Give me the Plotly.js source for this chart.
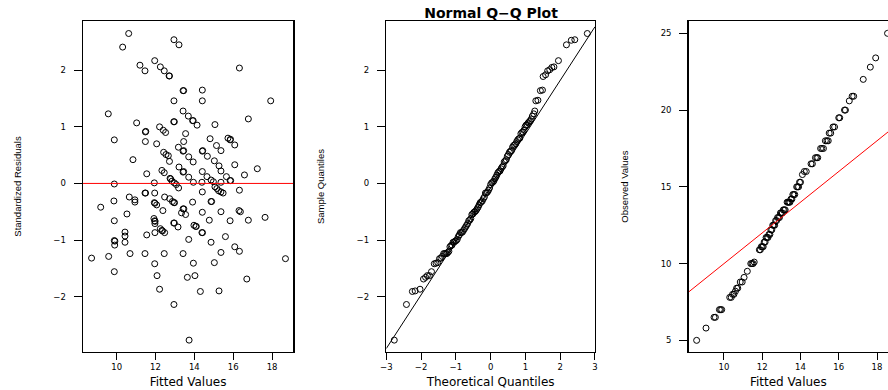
<!DOCTYPE html>
<html>
<head>
<meta charset="utf-8">
<script src="https://cdn.plot.ly/plotly-3.0.1.min.js"></script>
<style>
html,body{margin:0;padding:0;background:#fff;}
#chart{width:888px;height:390px;}
</style>
</head>
<body>
<div id="chart"></div>
<script>
// ---- Panel 1: standardized residuals vs fitted values ----
const fittedValues = [10.62,10.31,12.95,13.21,11.20,11.46,11.96,12.25,12.45,12.70,12.72,16.32,13.42,13.45,14.41,12.95,14.41,17.93,9.57,13.42,
13.69,13.91,13.94,12.94,12.97,14.14,15.06,16.78,11.03,12.21,12.40,12.52,11.48,11.50,13.55,9.88,11.48,12.06,13.45,14.81,
15.73,15.84,15.86,16.08,15.14,13.18,13.42,13.45,14.41,14.43,15.37,12.42,12.54,12.66,13.71,14.67,10.84,12.72,13.94,15.03,
15.27,16.08,13.21,17.24,11.55,12.33,12.45,13.42,13.45,14.41,15.37,14.65,13.71,16.58,15.65,14.86,12.75,12.78,12.85,13.95,
14.39,15.37,15.84,15.87,14.98,9.88,11.94,12.97,13.07,13.19,15.06,15.16,15.25,15.37,15.48,16.32,11.46,11.49,11.96,14.41,
10.65,10.94,10.94,9.86,9.18,12.47,12.73,12.87,12.95,12.98,11.94,11.97,12.06,13.91,14.86,14.89,13.42,13.46,12.38,13.34,
13.55,14.41,15.37,16.30,16.37,10.53,11.92,11.96,11.98,9.88,11.97,14.77,15.84,16.78,17.64,12.94,12.97,13.16,12.25,12.33,
12.36,12.47,11.97,10.43,10.43,13.98,14.07,14.10,14.39,14.42,11.55,15.60,13.71,9.88,9.91,9.90,10.43,14.86,16.08,16.32,
15.37,8.71,9.59,10.69,11.46,12.45,13.42,18.69,11.96,13.95,15.03,9.88,12.08,13.64,14.03,16.70,12.21,14.31,15.27,12.95,13.73];
const stdResiduals = [2.65,2.41,2.54,2.45,2.09,1.99,2.17,2.06,1.99,1.90,1.90,2.04,1.64,1.64,1.65,1.46,1.46,1.46,1.23,1.28,
1.19,1.11,1.11,1.09,1.09,1.03,1.04,1.14,1.07,1.00,0.94,0.90,0.91,0.92,0.88,0.77,0.74,0.70,0.74,0.79,
0.80,0.77,0.78,0.68,0.67,0.64,0.57,0.58,0.57,0.58,0.58,0.55,0.51,0.49,0.47,0.48,0.42,0.39,0.38,0.40,
0.31,0.33,0.29,0.26,0.17,0.23,0.19,0.20,0.21,0.21,0.22,0.12,0.11,0.15,0.12,0.06,0.09,0.08,0.04,0.02,
0.02,0.02,0.05,0.05,0.03,-0.01,0.01,0.01,-0.02,-0.08,-0.06,-0.09,-0.13,-0.15,-0.17,-0.12,-0.17,-0.17,-0.17,-0.15,
-0.24,-0.29,-0.33,-0.31,-0.42,-0.24,-0.27,-0.32,-0.34,-0.34,-0.34,-0.35,-0.38,-0.33,-0.32,-0.32,-0.45,-0.45,-0.48,-0.52,
-0.55,-0.51,-0.50,-0.48,-0.50,-0.54,-0.62,-0.66,-0.67,-0.66,-0.71,-0.65,-0.66,-0.65,-0.60,-0.70,-0.70,-0.77,-0.80,-0.83,
-0.84,-0.87,-0.87,-0.86,-0.93,-0.74,-0.76,-0.76,-0.87,-0.87,-0.91,-0.94,-0.99,-1.01,-1.02,-1.09,-1.04,-1.04,-1.12,-1.20,
-1.22,-1.32,-1.29,-1.24,-1.24,-1.24,-1.24,-1.33,-1.42,-1.41,-1.40,-1.56,-1.63,-1.66,-1.63,-1.69,-1.87,-1.91,-1.90,-2.14,-2.77];
const residualReference = 0;

// ---- Panel 2: normal Q-Q plot ----
const theoreticalQuantiles = [-2.77,-2.42,-2.25,-2.17,-2.03,-1.93,-1.87,-1.82,-1.76,-1.70,-1.62,-1.57,-1.52,-1.47,-1.43,-1.39,-1.35,-1.32,
-1.29,-1.26,-1.23,-1.20,-1.17,-1.14,-1.11,-1.08,-1.05,-1.02,-0.99,-0.96,-0.93,-0.90,-0.87,-0.84,-0.81,-0.78,-0.75,-0.72,-0.69,-0.66,
-0.63,-0.60,-0.57,-0.54,-0.51,-0.48,-0.45,-0.42,-0.39,-0.36,-0.33,-0.30,-0.27,-0.24,-0.21,-0.18,-0.15,-0.12,-0.09,-0.06,-0.03,0.00,
0.03,0.06,0.09,0.12,0.15,0.18,0.21,0.24,0.27,0.30,0.33,0.36,0.39,0.42,0.45,0.48,0.51,0.54,0.57,0.60,0.63,0.66,0.69,0.72,0.75,0.78,
0.81,0.84,0.87,0.90,0.93,0.96,0.99,1.02,1.05,1.08,1.11,1.14,1.17,1.20,1.24,1.27,1.30,1.36,1.43,1.49,1.51,1.58,1.64,1.70,1.76,1.82,
1.95,2.18,2.32,2.42,2.78];
const sampleQuantiles = [-2.77,-2.14,-1.91,-1.90,-1.87,-1.69,-1.66,-1.63,-1.63,-1.56,-1.42,-1.41,-1.40,-1.33,-1.32,-1.29,-1.24,-1.24,
-1.24,-1.24,-1.22,-1.20,-1.12,-1.10,-1.09,-1.04,-1.04,-1.02,-1.01,-0.99,-0.94,-0.91,-0.87,-0.87,-0.86,-0.83,-0.80,-0.77,-0.74,-0.71,
-0.66,-0.65,-0.62,-0.55,-0.54,-0.51,-0.50,-0.48,-0.45,-0.42,-0.38,-0.34,-0.33,-0.31,-0.27,-0.24,-0.17,-0.17,-0.15,-0.12,-0.08,-0.02,
0.01,0.02,0.04,0.08,0.11,0.15,0.19,0.21,0.22,0.26,0.29,0.31,0.38,0.40,0.42,0.48,0.51,0.55,0.57,0.58,0.64,0.67,0.68,0.70,0.74,0.77,
0.79,0.80,0.88,0.90,0.91,0.94,1.00,1.03,1.04,1.07,1.09,1.11,1.14,1.19,1.23,1.28,1.46,1.47,1.64,1.65,1.89,1.92,1.99,2.01,2.05,2.06,
2.17,2.45,2.53,2.54,2.65];
const qqLineIntercept = -0.075;
const qqLineSlope = 0.948;
const qqLineX = [-3, 3];

// ---- Panel 3: observed vs fitted values ----
const sortedFitted = [8.57,9.06,9.48,9.55,9.76,9.82,9.88,10.30,10.38,10.45,10.52,10.60,10.66,10.72,10.85,10.95,11.05,11.22,
11.40,11.46,11.52,11.58,11.85,11.90,11.95,12.00,12.05,12.10,12.15,12.20,12.25,12.30,12.35,12.40,12.45,12.50,12.55,12.60,12.65,
12.70,12.75,12.80,12.85,12.90,12.95,13.00,13.05,13.10,13.15,13.20,13.30,13.35,13.40,13.45,13.50,13.55,13.60,13.65,13.70,
13.80,13.85,13.90,13.95,14.00,14.10,14.20,14.30,14.55,14.62,14.78,14.85,14.90,15.05,15.12,15.20,15.30,15.38,15.45,15.50,15.58,
15.70,15.78,16.00,16.05,16.30,16.35,16.55,16.70,16.78,17.28,17.65,17.93,18.55];
const sortedObserved = [5.0,5.8,6.5,6.5,7.0,7.0,7.0,7.8,7.8,8.0,8.0,8.2,8.4,8.4,8.8,8.8,9.1,9.5,
10.0,10.0,10.0,10.1,10.9,10.9,11.1,11.1,11.1,11.4,11.4,11.7,11.7,11.7,11.9,11.9,12.2,12.2,12.5,12.5,12.5,
12.8,12.8,13.0,13.0,13.0,13.3,13.3,13.3,13.5,13.5,13.5,14.0,14.0,14.0,14.0,14.2,14.2,14.5,14.5,14.5,
15.0,15.0,15.0,15.3,15.3,15.8,16.0,16.0,16.5,16.5,16.9,16.9,16.9,17.5,17.5,17.5,18.0,18.0,18.0,18.5,18.5,
18.9,18.9,19.5,19.5,20.0,20.0,20.6,20.9,20.9,22.0,22.8,23.4,25.0];
const identityX = [8, 20];

const tickFont = {family: 'DejaVu Sans, Liberation Sans, sans-serif', size: 8.5, color: '#000'};
const xTitleFont = {family: 'DejaVu Sans, Liberation Sans, sans-serif', size: 12, color: '#000'};
const yTitleFont = {family: 'Liberation Sans, Arial, sans-serif', size: 9.5, color: '#000'};
const marker = {symbol: 'circle-open', size: 6, color: '#000', line: {width: 1, color: '#000'}};

function xAxis(domain, range, dtick, title, anchor, mirror) {
  return {domain: domain, range: range, dtick: dtick, tick0: 0, anchor: anchor,
    showline: true, linecolor: '#000', linewidth: 1, mirror: mirror,
    ticks: 'outside', ticklen: 7, tickwidth: 1, tickcolor: '#000',
    showgrid: false, zeroline: false, tickfont: tickFont,
    title: {text: title, font: xTitleFont, standoff: 6}};
}
function yAxis(range, dtick, title, anchor, mirror) {
  return {domain: [0.0974, 0.946], range: range, dtick: dtick, tick0: 0, anchor: anchor,
    showline: true, linecolor: '#000', linewidth: 1.5, mirror: mirror,
    ticks: 'outside', ticklen: 8, tickwidth: 1, tickcolor: '#000', ticklabelstandoff: 6,
    showgrid: false, zeroline: false, tickfont: tickFont,
    title: {text: title, font: yTitleFont, standoff: 30}};
}

const traces = [
  {type: 'scatter', mode: 'markers', x: fittedValues, y: stdResiduals, xaxis: 'x', yaxis: 'y', marker: marker},
  {type: 'scatter', mode: 'markers', x: theoreticalQuantiles, y: sampleQuantiles, xaxis: 'x2', yaxis: 'y2', marker: marker},
  {type: 'scatter', mode: 'lines', x: qqLineX, y: qqLineX.map(v => qqLineIntercept + qqLineSlope * v),
   xaxis: 'x2', yaxis: 'y2', line: {color: '#000', width: 1}},
  {type: 'scatter', mode: 'markers', x: sortedFitted, y: sortedObserved, xaxis: 'x3', yaxis: 'y3', marker: marker},
  {type: 'scatter', mode: 'lines', x: identityX, y: identityX, xaxis: 'x3', yaxis: 'y3', line: {color: '#ff0000', width: 1}}
];

const layout = {
  width: 888, height: 390,
  margin: {l: 0, r: 0, t: 0, b: 0},
  paper_bgcolor: '#fff', plot_bgcolor: '#fff',
  showlegend: false,
  title: {text: 'Normal Q\u2212Q Plot', x: 0.553, xanchor: 'center', y: 0.966, yanchor: 'middle',
    xref: 'paper', yref: 'paper',
    font: {family: 'DejaVu Sans, Liberation Sans, sans-serif', size: 14, weight: 'bold', color: '#000'}},
  xaxis: xAxis([0.0935, 0.33], [8.27, 19.08], 2, 'Fitted Values', 'y', true),
  yaxis: yAxis([-2.98, 2.87], 1, 'Standardized Residuals', 'x', true),
  xaxis2: xAxis([0.435, 0.670], [-3, 3], 1, 'Theoretical Quantiles', 'y2', true),
  yaxis2: yAxis([-2.98, 2.87], 1, 'Sample Quantiles', 'x2', true),
  xaxis3: xAxis([0.7756, 1.0], [8.157, 18.574], 2, 'Fitted Values', 'y3', true),
  yaxis3: yAxis([4.24, 25.8], 5, 'Observed Values', 'x3', false),
  shapes: [
    {type: 'line', xref: 'x domain', x0: 0, x1: 1, yref: 'y', y0: residualReference, y1: residualReference,
     line: {color: '#ff0000', width: 1}}
  ]
};

Plotly.newPlot('chart', traces, layout, {displayModeBar: false, staticPlot: true});
</script>
</body>
</html>
